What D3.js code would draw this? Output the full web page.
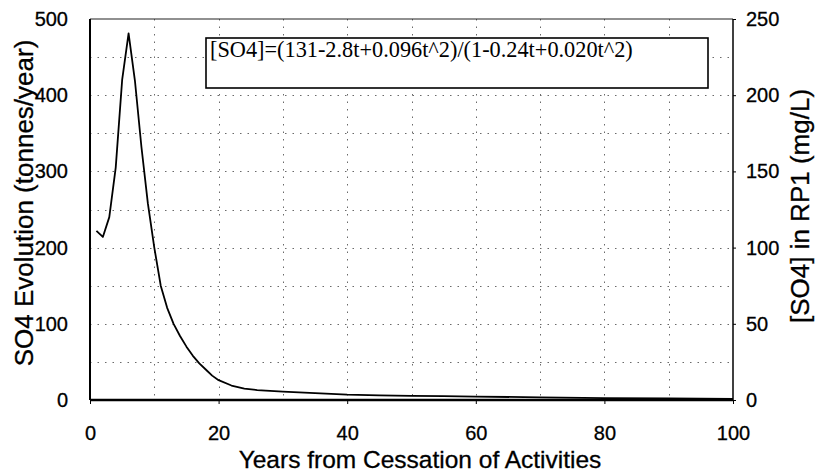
<!DOCTYPE html>
<html>
<head>
<meta charset="utf-8">
<script src="https://cdn.jsdelivr.net/npm/d3@7"></script>
<style>
  html, body { margin: 0; padding: 0; background: #fff; }
  svg { display: block; }
  .tick-label { font-family: "Liberation Sans", Arial, sans-serif; font-size: 20px; fill: #000; stroke: #000; stroke-width: 0.3px; }
  .axis-title { font-family: "Liberation Sans", Arial, sans-serif; fill: #000; stroke: #000; stroke-width: 0.3px; }
  .equation { font-family: "Liberation Serif", "Times New Roman", serif; font-size: 22.3px; fill: #000; }
</style>
</head>
<body>
<svg id="chart" width="816" height="472"></svg>
<script>
// Sulphate evolution after the end of operations
const years = [1, 2, 3, 4, 5, 6, 7, 8, 9, 10, 11, 12, 13, 14, 15, 16, 17, 18, 19, 20,
               22, 24, 26, 28, 30, 35, 40, 45, 50, 55, 60, 70, 80, 90, 100];
const so4Evolution = [222, 214, 240, 305, 420, 481, 418, 332, 258, 200, 150, 121, 100, 84, 70, 58, 48, 40, 32, 26,
                      19, 15, 13, 12, 11, 9, 7, 6, 5.5, 5, 4.5, 3.5, 2.5, 2, 1.5];

const xTicks = [0, 20, 40, 60, 80, 100];
const leftTicks = [0, 100, 200, 300, 400, 500];
const rightTicks = [0, 50, 100, 150, 200, 250];
const xGrid = [10, 20, 30, 40, 50, 60, 70, 80, 90];
const yGrid = [50, 100, 150, 200, 250, 300, 350, 400, 450];

const xTitle = "Years from Cessation of Activities";
const leftTitle = "SO4 Evolution (tonnes/year)";
const rightTitle = "[SO4] in RP1 (mg/L)";
const equation = "[SO4]=(131-2.8t+0.096t^2)/(1-0.24t+0.020t^2)";

const svg = d3.select("#chart");
const plot = { left: 90, right: 733, top: 19, bottom: 400 };

const x = d3.scaleLinear().domain([0, 100]).range([plot.left, plot.right]);
const yL = d3.scaleLinear().domain([0, 500]).range([plot.bottom, plot.top]);
const yR = d3.scaleLinear().domain([0, 250]).range([plot.bottom, plot.top]);

// dotted grid
const grid = svg.append("g")
  .attr("stroke", "#6a6a6a").attr("stroke-width", 1).attr("stroke-dasharray", "1.5,6");
grid.selectAll("line.v").data(xGrid).join("line")
  .attr("x1", d => Math.round(x(d)) + 0.5).attr("x2", d => Math.round(x(d)) + 0.5)
  .attr("y1", plot.top).attr("y2", plot.bottom);
grid.selectAll("line.h").data(yGrid).join("line")
  .attr("y1", d => Math.round(yL(d)) + 0.5).attr("y2", d => Math.round(yL(d)) + 0.5)
  .attr("x1", plot.left).attr("x2", plot.right);

// frame: top edge, left and right axes
svg.append("line").attr("x1", plot.left).attr("x2", plot.right)
  .attr("y1", plot.top).attr("y2", plot.top).attr("stroke", "#222").attr("stroke-width", 1.2);
svg.append("line").attr("x1", plot.left).attr("x2", plot.left)
  .attr("y1", plot.top).attr("y2", plot.bottom).attr("stroke", "#000").attr("stroke-width", 2);
svg.append("line").attr("x1", plot.right).attr("x2", plot.right)
  .attr("y1", plot.top).attr("y2", plot.bottom).attr("stroke", "#000").attr("stroke-width", 1.5);

// axes built with d3 generators, lines hidden, labels styled
const bottomAxis = svg.append("g")
  .attr("transform", `translate(0,${plot.bottom})`)
  .call(d3.axisBottom(x).tickValues(xTicks).tickSize(4).tickPadding(22));
const leftAxis = svg.append("g")
  .attr("transform", `translate(${plot.left},0)`)
  .call(d3.axisLeft(yL).tickValues(leftTicks).tickSize(0).tickPadding(22));
const rightAxis = svg.append("g")
  .attr("transform", `translate(${plot.right},0)`)
  .call(d3.axisRight(yR).tickValues(rightTicks).tickSize(3).tickPadding(10));
[bottomAxis, leftAxis, rightAxis].forEach(g => {
  g.select(".domain").remove();
  g.selectAll(".tick line").attr("stroke", "#000");
  g.selectAll(".tick text").attr("class", "tick-label").attr("font-family", null).attr("font-size", null);
  g.attr("font-family", null).attr("font-size", null);
});

// equation box
svg.append("rect").attr("x", 206).attr("y", 38).attr("width", 502).attr("height", 50)
  .attr("fill", "#fff").attr("stroke", "#000").attr("stroke-width", 1.6);
svg.append("text").attr("class", "equation").attr("x", 210).attr("y", 57).text(equation);

// curve
const line = d3.line().x((d, i) => x(years[i])).y(d => yL(d)).curve(d3.curveLinear);
svg.append("path").datum(so4Evolution).attr("d", line)
  .attr("fill", "none").attr("stroke", "#000").attr("stroke-width", 1.8).attr("stroke-linejoin", "round");

// heavy baseline along zero
svg.append("line").attr("x1", plot.left).attr("x2", plot.right)
  .attr("y1", plot.bottom).attr("y2", plot.bottom).attr("stroke", "#000").attr("stroke-width", 2.6);

// titles
svg.append("text").attr("class", "axis-title").attr("text-anchor", "middle").attr("font-size", 24.5)
  .attr("x", 420).attr("y", 468).text(xTitle);
svg.append("text").attr("class", "axis-title").attr("text-anchor", "middle").attr("font-size", 26)
  .attr("transform", "translate(33,203) rotate(-90)").text(leftTitle);
svg.append("text").attr("class", "axis-title").attr("text-anchor", "middle").attr("font-size", 26)
  .attr("transform", "translate(809,206) rotate(-90)").text(rightTitle);
</script>
</body>
</html>
